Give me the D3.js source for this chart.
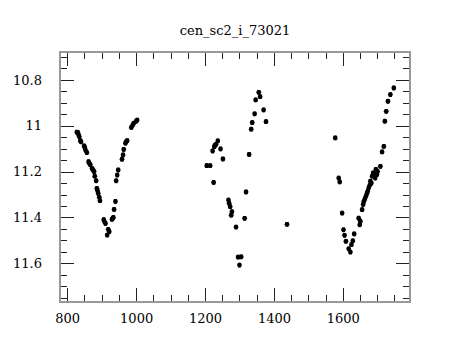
<!DOCTYPE html>
<html><head><meta charset="utf-8">
<script src="https://cdn.jsdelivr.net/npm/d3@7"></script>
<style>body{margin:0;background:#fff}svg{display:block}text{font-family:"DejaVu Serif",serif;fill:#000}</style>
</head><body>
<svg id="c" width="460" height="340"></svg>
<script>
const title = "cen_sc2_i_73021";
const xTicks = [800, 1000, 1200, 1400, 1600];
const yTicks = [10.8, 11, 11.2, 11.4, 11.6];
const times = [
 828,831,833,835,838,840,849,851,853,857,862,864,867,872,875,878,880,884,886,888,890,893,895,906,908,911,919,916,922,
 930,932,934,936,940,942,945,948,959,962,964,969,971,974,986,990,993,1000,1003,
 1356,1360,1347,1370,1344,1377,1337,1334,1237,1232,1227,1229,1245,1222,1252,1328,1205,1215,1225,1319,
 1268,1270,1273,1278,1276,1315,1290,1296,1305,1300,1438,
 1578,1588,1591,1598,1602,1605,1609,1617,1622,1625,1629,1633,1646,1651,1649,1656,1659,1661,1664,1667,
 1670,1672,1675,1678,1680,1683,1685,1688,1690,1692,1694,1696,1699,1701,1709,1714,1719,1722,1726,1731,1738,1748];
const mags = [
 11.028,11.03,11.04,11.047,11.065,11.07,11.088,11.095,11.106,11.117,11.157,11.163,11.17,11.186,11.193,11.2,11.22,11.24,11.273,11.284,11.295,11.312,11.327,11.41,11.418,11.426,11.452,11.477,11.462,
 11.408,11.404,11.40,11.365,11.33,11.24,11.215,11.193,11.146,11.127,11.103,11.076,11.07,11.065,11.007,10.997,10.989,10.98,10.975,
 10.854,10.873,10.887,10.931,10.948,10.982,10.986,11.015,11.066,11.081,11.091,11.085,11.101,11.11,11.145,11.125,11.174,11.174,11.247,11.289,
 11.324,11.338,11.353,11.375,11.39,11.404,11.442,11.573,11.572,11.608,11.43,
 11.053,11.228,11.245,11.381,11.454,11.478,11.504,11.537,11.551,11.519,11.502,11.472,11.403,11.417,11.432,11.366,11.343,11.33,11.32,11.308,
 11.295,11.286,11.272,11.26,11.242,11.25,11.22,11.206,11.21,11.22,11.228,11.19,11.213,11.2,11.177,11.114,11.09,10.98,10.937,10.893,10.864,10.835];
const magErr = 0.008;

const svg = d3.select("#c");
const L=60,R=410,T=52,B=302;
const x = d3.scaleLinear().domain([779,1795]).range([L,R]);
const y = d3.scaleLinear().domain([10.678,11.769]).range([T,B]);
const xMinor = d3.range(800,1795,50), yMinor = d3.range(10.7,11.769,0.05).map(v=>+v.toFixed(2));
const MJ=14, MN=7;
const g = svg.append("g").attr("stroke","#222").attr("stroke-width",1);
xMinor.forEach(v=>{const len = xTicks.includes(v)?MJ:MN; const px=Math.round(x(v))+0.5;
  g.append("line").attr("x1",px).attr("x2",px).attr("y1",B).attr("y2",B-len);
  g.append("line").attr("x1",px).attr("x2",px).attr("y1",T).attr("y2",T+len);});
yMinor.forEach(v=>{const len = yTicks.some(t=>Math.abs(t-v)<1e-6)?MJ:MN; const py=Math.round(y(v))+0.5;
  g.append("line").attr("y1",py).attr("y2",py).attr("x1",L).attr("x2",L+len);
  g.append("line").attr("y1",py).attr("y2",py).attr("x1",R).attr("x2",R-len);});
svg.append("rect").attr("x",L).attr("y",T).attr("width",R-L).attr("height",B-T)
  .attr("fill","none").attr("stroke","#999").attr("stroke-width",2);

const xa = d3.axisBottom(x).tickValues(xTicks).tickSize(0).tickPadding(12).tickFormat(d3.format("d"));
svg.append("g").attr("transform",`translate(0,${B})`).call(xa).call(s=>s.select(".domain").remove())
  .selectAll("text").attr("font-size",13).attr("font-family","DejaVu Serif").attr("fill","#000");
const ya = d3.axisLeft(y).tickValues(yTicks).tickSize(0).tickPadding(18).tickFormat(d=>String(+d.toFixed(1)));
svg.append("g").attr("transform",`translate(${L},0)`).call(ya).call(s=>s.select(".domain").remove())
  .selectAll("text").attr("font-size",13).attr("font-family","DejaVu Serif").attr("fill","#000");

svg.append("text").attr("x",235).attr("y",35).attr("text-anchor","middle").attr("font-size",13).text(title);

const pts = svg.append("g");
times.forEach((t,i)=>{
  const px=x(t), py=y(mags[i]), e=y(mags[i]+magErr)-py;
  pts.append("line").attr("x1",px).attr("x2",px).attr("y1",py-e).attr("y2",py+e).attr("stroke","#000").attr("stroke-width",1);
  pts.append("line").attr("x1",px-1.5).attr("x2",px+1.5).attr("y1",py-e).attr("y2",py-e).attr("stroke","#000");
  pts.append("line").attr("x1",px-1.5).attr("x2",px+1.5).attr("y1",py+e).attr("y2",py+e).attr("stroke","#000");
  pts.append("circle").attr("cx",px).attr("cy",py).attr("r",2.4).attr("fill","#000");
});
</script></body></html>
